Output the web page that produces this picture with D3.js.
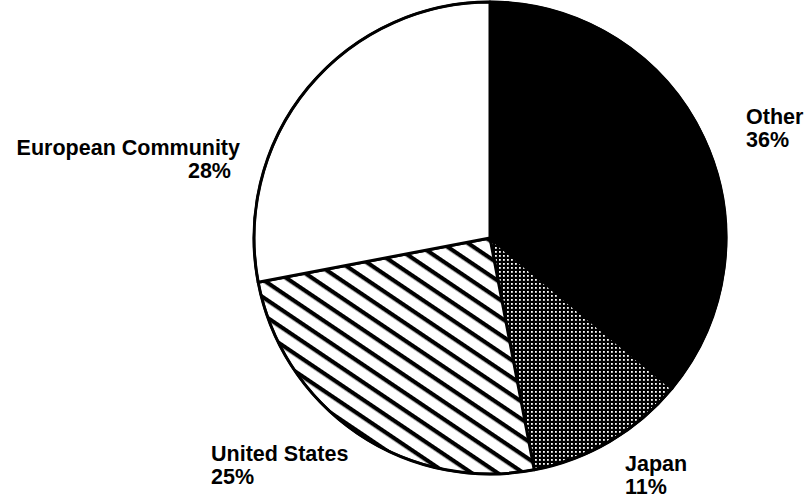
<!DOCTYPE html>
<html lang="en">
  <head>
    <meta charset="utf-8">
    <script src="https://d3js.org/d3.v7.min.js"></script>
    <style>
      body { margin: 0; background: #fff; }
      text { font-family: "Liberation Sans", Arial, sans-serif; font-weight: bold; fill: #000; }
    </style>
  </head>
  <body>
    <svg width="809" height="500"></svg>
    <script>
      // data, clockwise from 12 o'clock
      var categories = ["Other", "Japan", "United States", "European Community"];
      var shares = [36, 11, 25, 28];
      var fills = ["#000", "url(#dots)", "url(#hatch)", "#fff"];

      var svg = d3.select("svg");
      var cx = 490, cy = 238, radius = 236;

      var defs = svg.append("defs");

      // stipple for Japan
      var dots = defs.append("pattern")
        .attr("id", "dots")
        .attr("patternUnits", "userSpaceOnUse")
        .attr("width", 4)
        .attr("height", 4);
      dots.append("rect").attr("width", 4).attr("height", 4).attr("fill", "#000");
      dots.append("rect").attr("x", 1).attr("y", 1).attr("width", 1.8).attr("height", 1.8).attr("fill", "#fff");

      // diagonal hatch for United States
      var hatch = defs.append("pattern")
        .attr("id", "hatch")
        .attr("patternUnits", "userSpaceOnUse")
        .attr("width", 10)
        .attr("height", 14.5)
        .attr("patternTransform", "rotate(34)");
      hatch.append("rect").attr("width", 10).attr("height", 14.5).attr("fill", "#fff");
      hatch.append("rect").attr("y", 0).attr("width", 10).attr("height", 4.2).attr("fill", "#000");

      var pie = d3.pie().sort(null).value(function (d) { return d; });
      var arc = d3.arc().innerRadius(0).outerRadius(radius);

      var g = svg.append("g")
        .attr("transform", "translate(" + cx + "," + cy + ")");

      g.selectAll(".slice")
        .data(pie(shares))
        .enter()
        .append("path")
        .attr("class", "slice")
        .attr("d", arc)
        .attr("fill", function (d, i) { return fills[i]; })
        .attr("stroke", "#000")
        .attr("stroke-width", 3)
        .attr("stroke-linejoin", "round");

      g.append("circle")
        .attr("r", radius)
        .attr("fill", "none")
        .attr("stroke", "#000")
        .attr("stroke-width", 2.5);

      // labels
      var labels = [
        { name: categories[0], x: 746, y: 124, anchor: "start", px: 746, py: 147 },
        { name: categories[1], x: 625, y: 471, anchor: "start", px: 625, py: 494 },
        { name: categories[2], x: 211, y: 461, anchor: "start", px: 211, py: 484 },
        { name: categories[3], x: 240, y: 155, anchor: "end", px: 231, py: 178 }
      ];

      labels.forEach(function (l, i) {
        svg.append("text")
          .attr("x", l.x)
          .attr("y", l.y)
          .attr("text-anchor", l.anchor)
          .attr("font-size", "21.5px")
          .text(l.name);
        svg.append("text")
          .attr("x", l.px)
          .attr("y", l.py)
          .attr("text-anchor", l.anchor)
          .attr("font-size", "21.5px")
          .text(shares[i] + "%");
      });
    </script>
  </body>
</html>
